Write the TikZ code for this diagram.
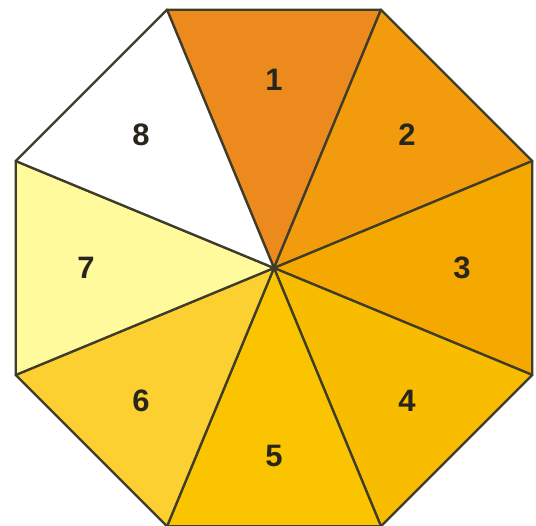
\documentclass[tikz,border=0pt]{standalone}
\usepackage{fontspec}
\setsansfont{Liberation Sans}
\usetikzlibrary{calc}
\definecolor{rim}{RGB}{62,60,42}
\definecolor{numink}{RGB}{40,38,28}
\definecolor{seg1}{RGB}{236,138,30}
\definecolor{seg2}{RGB}{242,155,12}
\definecolor{seg3}{RGB}{245,168,0}
\definecolor{seg4}{RGB}{248,188,0}
\definecolor{seg5}{RGB}{250,197,0}
\definecolor{seg6}{RGB}{252,208,48}
\definecolor{seg7}{RGB}{255,250,156}
\definecolor{seg8}{RGB}{255,255,255}

\begin{document}
\begin{tikzpicture}[x=1pt, y=1pt]
  \tikzset{
    wedge/.style={draw=rim, line width=2.3pt, line join=round},
    num/.style={font=\sffamily\bfseries\fontsize{31}{37}\selectfont, text=numink}}

  \useasboundingbox (-274,-258) rectangle (262,268);

  % --- centre and the eight corners of the octagon
  \coordinate (c) at (0,0);
  \foreach \i in {0,...,7}
    \coordinate (v\i) at ({112.5-45*\i}:279.6);

  % --- the eight wedges, numbered clockwise from the top
  \foreach \k/\col in {1/seg1, 2/seg2, 3/seg3, 4/seg4, 5/seg5, 6/seg6, 7/seg7, 8/seg8}{
    \pgfmathtruncatemacro\a{\k-1}
    \pgfmathtruncatemacro\b{mod(\k,8)}
    \filldraw[wedge, fill=\col] (c) -- (v\a) -- (v\b) -- cycle;
    \node[num] (n\k) at ({90-45*(\k-1)}:188) {\k};
  }
\end{tikzpicture}
\end{document}
